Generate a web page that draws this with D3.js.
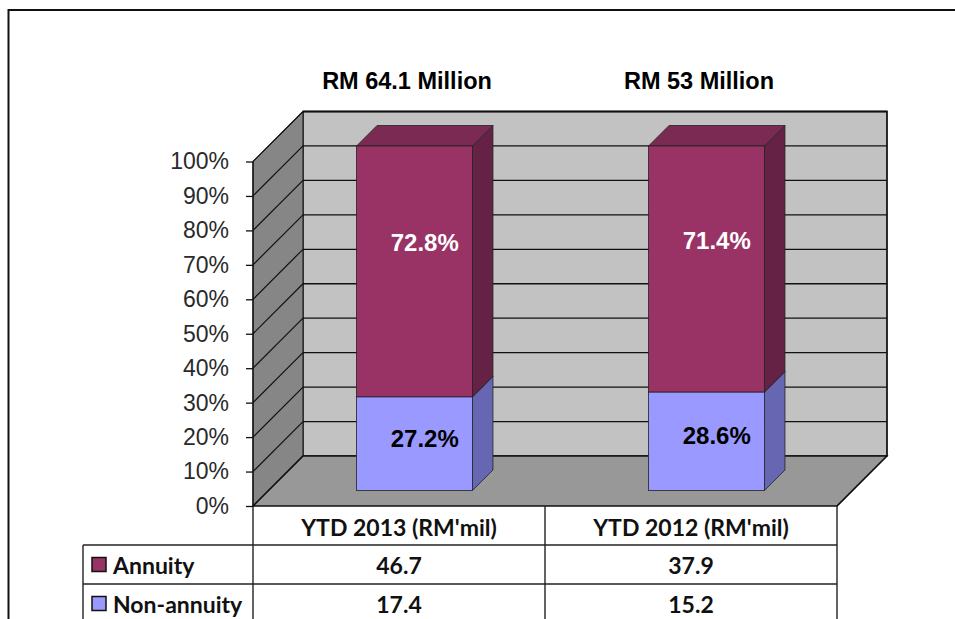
<!DOCTYPE html>
<html>
<head>
<meta charset="utf-8">
<script src="https://cdn.jsdelivr.net/npm/d3@7"></script>
<style>
  html, body { margin: 0; padding: 0; background: #ffffff; }
  svg { display: block; }
</style>
</head>
<body>
<svg id="chart" width="955" height="619"></svg>
<script>
// ---------- data ----------
const categories = ["YTD 2013 (RM'mil)", "YTD 2012 (RM'mil)"];
const totalsLabels = ["RM 64.1 Million", "RM 53 Million"];
const seriesNames = ["Annuity", "Non-annuity"];
const annuityValues = [46.7, 37.9];
const nonAnnuityValues = [17.4, 15.2];
const annuityPct = [72.8, 71.4];
const nonAnnuityPct = [27.2, 28.6];
const yTicks = [0, 10, 20, 30, 40, 50, 60, 70, 80, 90, 100];

// ---------- layout / style ----------
const W = 955, H = 619;
const svg = d3.select("#chart");
const colors = {
  annuity: { front: "#993366", top: "#7b2a53", side: "#662244" },
  non: { front: "#9999ff", top: "#7a7ad0", side: "#6666b3" },
  back: "#c2c2c2", leftWall: "#868686", floor: "#989898"
};
const DEPTH = 50;     // 3D depth offset of the chart box
const F1 = 15.5;      // bar front face depth
const F2 = 36;        // bar back face depth

const x = d3.scaleBand().domain(categories).range([253, 837]).paddingInner(0.603).paddingOuter(0.3015);
const y = d3.scaleLinear().domain([0, 100]).range([506, 161.5]);
const x0 = x.range()[0], x1 = x.range()[1];

// outer frame
svg.append("path")
  .attr("d", `M8.5,${H + 2} L8.5,10 L${W + 2},10`)
  .attr("fill", "none").attr("stroke", "#111").attr("stroke-width", 2);

const poly = pts => "M" + pts.map(p => p.join(",")).join("L") + "Z";

// walls
const g = svg.append("g");
g.append("path")
  .attr("d", poly([[x0 + DEPTH, y(100) - DEPTH], [x1 + DEPTH, y(100) - DEPTH], [x1 + DEPTH, y(0) - DEPTH], [x0 + DEPTH, y(0) - DEPTH]]))
  .attr("fill", colors.back).attr("stroke", "#111").attr("stroke-width", 1.3);
g.append("path")
  .attr("d", poly([[x0, y(0)], [x0, y(100)], [x0 + DEPTH, y(100) - DEPTH], [x0 + DEPTH, y(0) - DEPTH]]))
  .attr("fill", colors.leftWall).attr("stroke", "#111").attr("stroke-width", 1);
g.append("path")
  .attr("d", poly([[x0, y(0)], [x1, y(0)], [x1 + DEPTH, y(0) - DEPTH], [x0 + DEPTH, y(0) - DEPTH]]))
  .attr("fill", colors.floor).attr("stroke", "#111").attr("stroke-width", 1.3);

// gridlines
const grid = g.append("g");
yTicks.filter(t => t > 0).forEach(t => {
  grid.append("line")
    .attr("x1", x0 + DEPTH).attr("x2", x1 + DEPTH)
    .attr("y1", y(t) - DEPTH).attr("y2", y(t) - DEPTH)
    .attr("stroke", "#111").attr("stroke-width", 1.3);
});
yTicks.forEach(t => {
  grid.append("line")
    .attr("x1", x0).attr("y1", y(t))
    .attr("x2", x0 + DEPTH).attr("y2", y(t) - DEPTH)
    .attr("stroke", "#111").attr("stroke-width", 1.2);
});
g.append("path")
  .attr("d", `M${x0 + DEPTH},${y(100) - DEPTH}L${x1 + DEPTH},${y(100) - DEPTH}L${x1 + DEPTH},${y(0) - DEPTH}L${x1},${y(0)}`)
  .attr("fill", "none").attr("stroke", "#111").attr("stroke-width", 1.3);

// axis
const axisG = svg.append("g").attr("transform", `translate(${x0},0)`);
axisG.call(d3.axisLeft(y).tickValues(yTicks).tickSize(7).tickFormat(d => d + "%"));
axisG.select(".domain").remove();
axisG.selectAll(".tick line").attr("stroke", "#111").attr("stroke-width", 1.3);
axisG.selectAll(".tick text")
  .attr("x", -24)
  .attr("font-family", "Arial, 'Liberation Sans', sans-serif")
  .attr("font-size", 23).attr("fill", "#2a2a2a");
svg.append("line")
  .attr("x1", x0).attr("x2", x0).attr("y1", y(100)).attr("y2", 545)
  .attr("stroke", "#111").attr("stroke-width", 1.3);

// bars
const stacks = categories.map((c, i) => [
  { key: "non", start: 0, end: nonAnnuityPct[i], label: nonAnnuityPct[i].toFixed(1) + "%", labelColor: "#000", frac: 0.45 },
  { key: "annuity", start: nonAnnuityPct[i], end: nonAnnuityPct[i] + annuityPct[i], label: annuityPct[i].toFixed(1) + "%", labelColor: "#fff", frac: 0.575 }
]);
const barsG = svg.append("g");
categories.forEach((c, i) => {
  const bx = x(c) + F1, bw = x.bandwidth(), dd = F2 - F1;
  stacks[i].forEach(s => {
    const col = colors[s.key];
    const yt = y(s.end) - F1, yb = y(s.start) - F1;
    barsG.append("path")
      .attr("d", poly([[bx + bw, yb], [bx + bw, yt], [bx + bw + dd, yt - dd], [bx + bw + dd, yb - dd]]))
      .attr("fill", col.side).attr("stroke", "#222").attr("stroke-width", 0.8);
    barsG.append("path")
      .attr("d", poly([[bx, yt], [bx + bw, yt], [bx + bw + dd, yt - dd], [bx + dd, yt - dd]]))
      .attr("fill", col.top).attr("stroke", "#222").attr("stroke-width", 0.8);
    barsG.append("rect")
      .attr("x", bx).attr("y", yt).attr("width", bw).attr("height", yb - yt)
      .attr("fill", col.front).attr("stroke", "#222").attr("stroke-width", 0.8);
  });
  stacks[i].forEach(s => {
    const mid = (F1 + F2) / 2;
    barsG.append("text")
      .attr("x", x(c) + bw / 2 + mid)
      .attr("y", y(s.start + (s.end - s.start) * s.frac) - mid)
      .attr("text-anchor", "middle").attr("dominant-baseline", "central")
      .attr("font-family", "Arial, 'Liberation Sans', sans-serif")
      .attr("font-weight", "bold").attr("font-size", 24)
      .attr("fill", s.labelColor)
      .text(s.label);
  });
  svg.append("text")
    .attr("x", x(c) + bw / 2 + 8)
    .attr("y", 81)
    .attr("text-anchor", "middle").attr("dominant-baseline", "central")
    .attr("font-family", "Arial, 'Liberation Sans', sans-serif")
    .attr("font-weight", "bold").attr("font-size", 23.5).attr("fill", "#000")
    .text(totalsLabels[i]);
});

// data table
const tbl = svg.append("g");
const rowTops = [y(0), 545, 584, 623];
const colEdges = [83, x0, x0 + x.step(), x1];
const lineAttrs = sel => sel.attr("stroke", "#222").attr("stroke-width", 1.4);
lineAttrs(tbl.append("line").attr("x1", colEdges[0]).attr("x2", x1).attr("y1", rowTops[1]).attr("y2", rowTops[1]));
lineAttrs(tbl.append("line").attr("x1", colEdges[0]).attr("x2", x1).attr("y1", rowTops[2]).attr("y2", rowTops[2]));
lineAttrs(tbl.append("line").attr("x1", colEdges[0]).attr("x2", colEdges[0]).attr("y1", rowTops[1]).attr("y2", H + 2));
lineAttrs(tbl.append("line").attr("x1", colEdges[2]).attr("x2", colEdges[2]).attr("y1", rowTops[0]).attr("y2", H + 2));
lineAttrs(tbl.append("line").attr("x1", colEdges[3]).attr("x2", colEdges[3]).attr("y1", rowTops[0]).attr("y2", H + 2));
lineAttrs(tbl.append("line").attr("x1", x0).attr("x2", x0).attr("y1", rowTops[1]).attr("y2", H + 2));

const tfont = sel => sel.attr("font-family", "Lato, 'Open Sans', sans-serif").attr("font-weight", "bold")
  .attr("font-size", 23).attr("fill", "#111").attr("dominant-baseline", "central");
categories.forEach((c, i) => {
  const cx = x0 + x.step() * (i + 0.5);
  tfont(tbl.append("text")).attr("x", cx).attr("y", (rowTops[0] + rowTops[1]) / 2 + 1)
    .attr("text-anchor", "middle").text(c);
  tfont(tbl.append("text")).attr("x", cx).attr("y", (rowTops[1] + rowTops[2]) / 2)
    .attr("text-anchor", "middle").text(annuityValues[i].toFixed(1));
  tfont(tbl.append("text")).attr("x", cx).attr("y", (rowTops[2] + rowTops[3]) / 2)
    .attr("text-anchor", "middle").text(nonAnnuityValues[i].toFixed(1));
});
const legendColors = [colors.annuity.front, colors.non.front];
seriesNames.forEach((n, i) => {
  const cy = (rowTops[i + 1] + rowTops[i + 2]) / 2;
  tbl.append("rect").attr("x", 92).attr("y", cy - 7).attr("width", 14).attr("height", 14)
    .attr("fill", legendColors[i]).attr("stroke", "#111").attr("stroke-width", 1.5);
  tfont(tbl.append("text")).attr("x", 113).attr("y", cy).attr("text-anchor", "start").text(n);
});
</script>
</body>
</html>
